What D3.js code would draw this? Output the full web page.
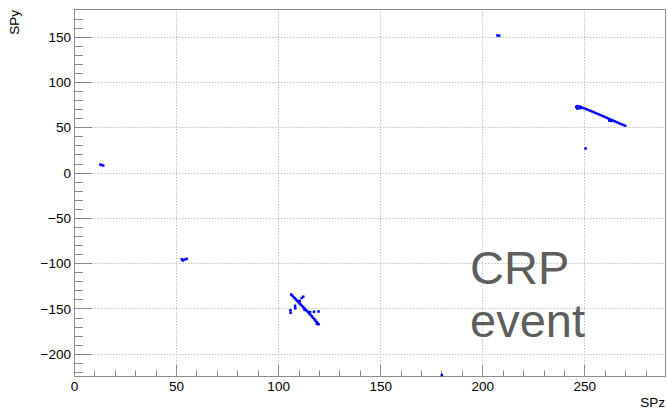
<!DOCTYPE html>
<html>
<head>
<meta charset="utf-8">
<script src="https://cdn.jsdelivr.net/npm/d3@7"></script>
<style>
  html, body { margin: 0; padding: 0; background: #fff; }
  svg { display: block; font-family: "Liberation Sans", Arial, Helvetica, sans-serif; }
</style>
</head>
<body>
<svg id="chart" width="667" height="409"></svg>
<script>
// Space points (SPz, SPy) grouped by cluster
const hitsA = [[12.9, 8.8], [13.6, 8.3], [14.3, 7.8]];
const hitsB = [[52.8, -95.6], [53.6, -96.4], [54.4, -95.8], [55.2, -95.2], [53.2, -96.9]];
const hitsC = [
  [106.4, -134.6], [107.0, -136.0], [107.6, -137.4], [108.2, -138.8], [108.8, -140.2],
  [109.4, -141.6], [110.0, -143.0], [110.5, -144.4], [111.1, -145.7], [111.7, -147.1],
  [112.3, -148.5], [112.9, -149.9], [113.5, -151.3], [114.1, -152.7], [114.7, -154.1],
  [115.3, -155.6], [115.9, -157.1], [116.5, -158.6], [117.1, -160.2], [117.7, -161.8],
  [118.3, -163.4], [118.9, -165.0], [119.4, -166.5], [119.8, -167.4], [119.0, -167.0],
  [106.0, -152.0], [106.1, -154.8], [108.3, -147.0], [108.4, -149.8], [111.6, -138.4],
  [112.3, -137.0], [110.6, -141.6], [115.6, -153.9], [117.6, -153.6],
  [119.8, -153.3], [113.0, -151.6]
];
const hitsD = [[207.4, 151.3], [208.3, 151.1]];
const hitsE = [
  [246.0, 72.2], [246.4, 73.4], [247.6, 73.0], [247.8, 71.0], [246.6, 70.6],
  [248.2, 72.3], [249.0, 71.6], [250.0, 70.8], [251.0, 69.9], [252.0, 69.0],
  [253.0, 68.1], [254.0, 67.2], [255.0, 66.2], [256.0, 65.3], [257.0, 64.3],
  [258.0, 63.4], [259.0, 62.4], [260.0, 61.4], [261.0, 60.4], [262.0, 59.4],
  [262.2, 57.4], [263.2, 57.0], [263.0, 58.4], [264.0, 57.4], [265.0, 56.5],
  [266.0, 55.5], [267.0, 54.5], [268.0, 53.5], [269.0, 52.6], [270.0, 51.7]
];
const hitsF = [[250.6, 26.6]];
const hitsG = [[180.2, -223.4]];
const clusters = [hitsA, hitsB, hitsC, hitsD, hitsE, hitsF, hitsG];

const zDomain = [0, 290];
const yDomain = [-224.5, 180.5];
const zTicks = [0, 50, 100, 150, 200, 250];
const yTicks = [-200, -150, -100, -50, 0, 50, 100, 150];
const zMinor = d3.range(10, 290, 10);
const yMinor = d3.range(-220, 181, 10);

const svg = d3.select("#chart");
const frame = { left: 74, right: 666, top: 9, bottom: 376 };
const x = d3.scaleLinear().domain(zDomain).range([frame.left, frame.right]);
const y = d3.scaleLinear().domain(yDomain).range([frame.bottom, frame.top]);

const axisColor = "#8c8c8c";
const gridColor = "#c4c4c4";

// Dotted grid at major ticks
const grid = svg.append("g");
grid.selectAll("line.gx").data(zTicks.filter(t => t > zDomain[0]))
  .join("line")
  .attr("x1", d => Math.round(x(d)) + 0.5).attr("x2", d => Math.round(x(d)) + 0.5)
  .attr("y1", frame.top).attr("y2", frame.bottom)
  .attr("stroke", gridColor).attr("stroke-dasharray", "1.5,1.5");
grid.selectAll("line.gy").data(yTicks)
  .join("line")
  .attr("y1", d => Math.round(y(d)) + 0.5).attr("y2", d => Math.round(y(d)) + 0.5)
  .attr("x1", frame.left).attr("x2", frame.right)
  .attr("stroke", gridColor).attr("stroke-dasharray", "1.5,1.5");

// Axes
const xAxis = d3.axisBottom(x).tickValues(zTicks).tickSize(0).tickPadding(0).tickSizeOuter(0);
const gx = svg.append("g").attr("transform", `translate(0,${frame.bottom})`).call(xAxis);
gx.select(".domain").remove();
gx.selectAll("text").attr("y", 15).attr("dy", 0)
  .attr("font-size", 13.5).attr("fill", "#000").attr("font-family", "Liberation Sans, Arial, sans-serif");

const yAxis = d3.axisLeft(y).tickValues(yTicks).tickSize(0).tickPadding(0).tickSizeOuter(0)
  .tickFormat(d => d < 0 ? "\u2212" + Math.abs(d) : String(d));
const gy = svg.append("g").attr("transform", `translate(${frame.left},0)`).call(yAxis);
gy.select(".domain").remove();
gy.selectAll("text").attr("x", -3).attr("dy", "0.35em")
  .attr("font-size", 13.5).attr("fill", "#000").attr("font-family", "Liberation Sans, Arial, sans-serif");

// Tick marks drawn inward from the frame
const ticks = svg.append("g").attr("stroke", axisColor).attr("stroke-width", 1);
ticks.selectAll("line.xmaj").data(zTicks).join("line")
  .attr("x1", d => Math.round(x(d)) + 0.5).attr("x2", d => Math.round(x(d)) + 0.5)
  .attr("y1", frame.bottom).attr("y2", frame.bottom - 11);
ticks.selectAll("line.xmin").data(zMinor.filter(v => v % 50 !== 0)).join("line")
  .attr("x1", d => Math.round(x(d)) + 0.5).attr("x2", d => Math.round(x(d)) + 0.5)
  .attr("y1", frame.bottom).attr("y2", frame.bottom - 5.5);
ticks.selectAll("line.ymaj").data(yTicks).join("line")
  .attr("y1", d => Math.round(y(d)) + 0.5).attr("y2", d => Math.round(y(d)) + 0.5)
  .attr("x1", frame.left).attr("x2", frame.left + 18);
ticks.selectAll("line.ymin").data(yMinor.filter(v => v % 50 !== 0)).join("line")
  .attr("y1", d => Math.round(y(d)) + 0.5).attr("y2", d => Math.round(y(d)) + 0.5)
  .attr("x1", frame.left).attr("x2", frame.left + 9);

// Frame
svg.append("rect")
  .attr("x", frame.left + 0.5).attr("y", frame.top + 0.5)
  .attr("width", frame.right - frame.left - 1).attr("height", frame.bottom - frame.top)
  .attr("fill", "none").attr("stroke", axisColor);

// Space point markers
const pts = svg.append("g").attr("fill", "#0000ff");
clusters.forEach(c => {
  pts.selectAll(null).data(c).join("rect")
    .attr("x", d => x(d[0]) - 1.25).attr("y", d => y(d[1]) - 1.25)
    .attr("width", 2.5).attr("height", 2.5);
});

// Axis titles
svg.append("text").attr("transform", "translate(19,10) rotate(-90)")
  .attr("text-anchor", "end").attr("font-size", 13.5).attr("fill", "#000").text("SPy");
svg.append("text").attr("x", 665).attr("y", 406.5)
  .attr("text-anchor", "end").attr("font-size", 13.5).attr("fill", "#000").text("SPz");

// Event label
const lbl = svg.append("text").attr("font-size", 47).attr("fill", "#5e5e5e");
lbl.append("tspan").attr("x", 470).attr("y", 284).text("CRP");
lbl.append("tspan").attr("x", 470).attr("y", 337).text("event");
</script>
</body>
</html>
